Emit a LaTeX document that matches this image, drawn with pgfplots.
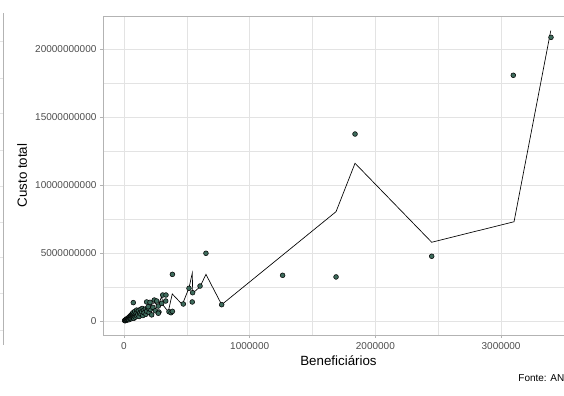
\documentclass[border=0pt]{standalone}
\usepackage{fontspec}
\setmainfont{Liberation Sans}
\usepackage{pgfplots}
\usepackage{pgfplotstable}
\pgfplotsset{compat=1.18}
\definecolor{gridc}{HTML}{E3E3E3}
\definecolor{borderc}{HTML}{B3B3B3}
\definecolor{tickc}{HTML}{4D4D4D}
\definecolor{ptfill}{HTML}{3E6B5C}

% x in millions of beneficiaries, y in billions
\pgfplotstableread{
x y
0.005 0.03
0.008 0.06
0.010 0.02
0.012 0.08
0.015 0.05
0.018 0.12
0.020 0.09
0.022 0.15
0.025 0.07
0.028 0.18
0.030 0.11
0.033 0.22
0.035 0.14
0.038 0.25
0.040 0.10
0.042 0.30
0.045 0.19
0.048 0.35
0.050 0.23
0.053 0.28
0.055 0.42
0.058 0.17
0.060 0.33
0.063 0.50
0.065 0.26
0.068 0.38
0.070 0.60
0.072 0.30
0.075 0.45
0.078 0.20
0.080 0.52
0.083 0.35
0.085 0.70
0.088 0.41
0.090 0.28
0.095 0.55
0.100 0.80
0.100 0.38
0.105 0.62
0.110 0.47
0.115 0.75
0.120 0.33
0.125 0.58
0.130 0.85
0.135 0.50
0.140 0.68
0.145 0.92
0.150 0.40
0.155 0.78
0.160 0.60
0.170 0.88
0.175 0.50
0.180 0.72
0.190 0.95
0.200 0.62
0.210 0.85
0.220 0.45
0.230 1.00
0.250 0.75
0.074 1.35
0.180 1.40
0.207 1.37
0.241 1.54
0.193 1.05
0.260 1.47
0.273 1.10
0.278 0.66
0.273 0.57
0.300 1.30
0.308 1.91
0.334 1.91
0.332 1.47
0.358 0.68
0.374 0.61
0.385 0.71
0.385 3.43
0.472 1.25
0.517 2.40
0.543 1.40
0.546 2.08
0.605 2.57
0.652 4.98
0.777 1.20
1.262 3.36
1.687 3.24
1.838 13.75
2.448 4.76
3.097 18.07
3.397 20.86
}\points

\pgfplotstableread{
x y
0.004 0.00
0.016 0.07
0.048 0.22
0.088 0.37
0.127 0.59
0.167 0.74
0.193 1.05
0.241 1.35
0.273 1.10
0.300 1.84
0.310 1.18
0.352 0.68
0.384 1.99
0.464 1.21
0.517 2.43
0.543 3.51
0.547 2.04
0.605 2.52
0.652 3.43
0.777 1.20
1.687 8.04
1.838 11.60
2.448 5.79
3.103 7.30
3.395 21.35
}\trend

\begin{document}
\begin{tikzpicture}
\useasboundingbox (0,0) rectangle (423pt,297pt);
% remnant of neighbouring panel on the left
\foreach \yy in {265.7,238.3,212.0,184.0,157.0,130.0,104.0,77.0,49.5}{
  \draw[gridc, line width=0.5pt] (0,\yy pt) -- (2.25pt,\yy pt);
}
\draw[borderc, line width=0.5pt] (2.25pt,38.25pt) -- (2.25pt,287.25pt);

\begin{axis}[
  at={(77.25pt,45.75pt)}, anchor=south west,
  width=353.25pt, height=239.25pt, scale only axis,
  xmin=-0.167, xmax=3.58, ymin=-1.03, ymax=22.43,
  xtick={0,1,2,3}, xticklabels={0,1000000,2000000,3000000},
  ytick={0,5,10,15,20},
  yticklabels={0,5000000000,10000000000,15000000000,20000000000},
  minor xtick={0.5,1.5,2.5,3.5}, minor ytick={2.5,7.5,12.5,17.5},
  grid=both,
  major grid style={draw=gridc, line width=0.5pt},
  minor grid style={draw=gridc, line width=0.3pt},
  axis line style={draw=borderc, line width=0.5pt},
  tick align=outside, major tick length=2.4pt, minor tick length=0pt,
  xtick pos=lower, ytick pos=left,
  tick style={draw=borderc, line width=0.5pt},
  ticklabel style={font=\fontsize{7.5}{9}\selectfont, text=tickc},
  yticklabel style={xshift=1pt},
  /pgf/number format/assume math mode=true,
  xlabel={Beneficiários}, ylabel={Custo total},
  label style={font=\fontsize{9.4}{11}\selectfont},
  every axis x label/.style={at={(axis description cs:0.5,0)}, anchor=center, yshift=-19.3pt},
  every axis y label/.style={at={(axis description cs:0,0.5)}, rotate=90, anchor=center, yshift=60.75pt},
  clip=true,
]
\addplot[black, line width=0.5pt, mark=none] table[x=x,y=y] {\trend};
\addplot[only marks, mark=*, mark size=1.8pt,
  mark options={fill=ptfill, draw=black, line width=0.4pt}] table[x=x,y=y] {\points};
\end{axis}
\node[anchor=west, inner sep=0pt, font=\fontsize{7.5}{9}\selectfont] at (388.6pt,13.3pt) {Fonte: AN};
\end{tikzpicture}
\end{document}
